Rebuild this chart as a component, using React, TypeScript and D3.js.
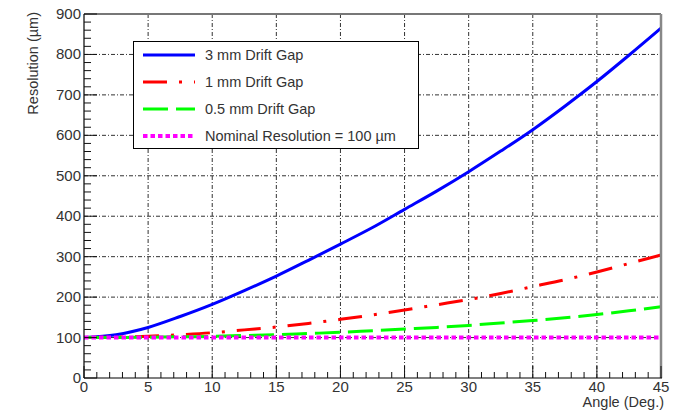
import React from "react";
import * as d3 from "d3";

// angle in degrees, resolution in µm
const angles = [0, 2.5, 5, 7.5, 10, 12.5, 15, 17.5, 20, 22.5, 25, 27.5, 30, 32.5, 35, 37.5, 40, 42.5, 45];
const gap3mm = [100, 107, 125, 152, 182, 216, 252, 291, 331, 372, 417, 462, 510, 561, 614, 672, 733, 798, 865];
const gap1mm = [100, 101, 103, 107, 112, 119, 126, 135, 145, 156, 168, 181, 194, 209, 226, 243, 262, 283, 304];
const gap05mm = [100, 100, 101, 102, 103, 105, 107, 110, 113, 117, 121, 125, 130, 136, 142, 149, 157, 166, 176];
const nominal = [100, 100, 100, 100, 100, 100, 100, 100, 100, 100, 100, 100, 100, 100, 100, 100, 100, 100, 100];

const xTicks = [0, 5, 10, 15, 20, 25, 30, 35, 40, 45];
const yTicks = [0, 100, 200, 300, 400, 500, 600, 700, 800, 900];

const series = [
  { name: "3 mm Drift Gap", values: gap3mm, color: "#0000ff", width: 3, dash: "" },
  { name: "1 mm Drift Gap", values: gap1mm, color: "#ff0000", width: 3, dash: "24,12,3,12" },
  { name: "0.5 mm Drift Gap", values: gap05mm, color: "#00ff00", width: 3, dash: "25,8" },
  { name: "Nominal Resolution = 100 µm", values: nominal, color: "#ff00ff", width: 4, dash: "4.5,3" },
];

const W = 690;
const H = 410;
const margin = { top: 14, right: 29, bottom: 32, left: 84 };
const font = "'Liberation Sans', Arial, sans-serif";

const App = () => {
  const x = d3.scaleLinear().domain([0, 45]).range([margin.left, W - margin.right]);
  const y = d3.scaleLinear().domain([0, 900]).range([H - margin.bottom, margin.top]);
  const x0 = x(0), x1 = x(45), y0 = y(0), y1 = y(900);

  const line = d3
    .line<number>()
    .x((_, i) => x(angles[i]))
    .y((d) => y(d))
    .curve(d3.curveMonotoneX);

  const xMinor = d3.range(0, 46, 1);
  const yMinor = d3.range(0, 901, 20);

  return (
    <div style={{ position: "absolute", left: 0, top: 0 }}>
      <svg width={W} height={H} style={{ display: "block", background: "#fff" }}>
        <g stroke="#333" strokeWidth={1} strokeDasharray="4,2,1,2">
          {xTicks.slice(1).map((t) => (
            <line key={"gx" + t} x1={x(t)} x2={x(t)} y1={y0} y2={y1} />
          ))}
          {yTicks.slice(1).map((t) => (
            <line key={"gy" + t} x1={x0} x2={x1} y1={y(t)} y2={y(t)} />
          ))}
        </g>

        <g fill="none">
          {series.map((s) => (
            <path
              key={s.name}
              d={line(s.values) || ""}
              stroke={s.color}
              strokeWidth={s.width}
              strokeDasharray={s.dash || undefined}
            />
          ))}
        </g>

        {/* frame */}
        <line x1={x0} x2={x1} y1={y1} y2={y1} stroke="#777" strokeWidth={2} />
        <line x1={x1} x2={x1} y1={y1} y2={y0} stroke="#888" strokeWidth={2.5} />
        <line x1={x0} x2={x1 + 1} y1={y0} y2={y0} stroke="#000" strokeWidth={1.2} />
        <line x1={x0} x2={x0} y1={y1} y2={y0} stroke="#000" strokeWidth={1.2} />

        {/* ticks */}
        <g stroke="#111" strokeWidth={1}>
          {xMinor.map((t) => {
            const major = t % 5 === 0;
            return <line key={"tx" + t} x1={x(t)} x2={x(t)} y1={y0} y2={y0 - (major ? 12 : 6)} />;
          })}
          {yMinor.map((t) => {
            const major = t % 100 === 0;
            return <line key={"ty" + t} x1={x0} x2={x0 + (major ? 13 : 7)} y1={y(t)} y2={y(t)} />;
          })}
        </g>

        <g fontFamily={font} fontSize={15} fill="#333">
          {xTicks.map((t) => (
            <text key={"lx" + t} x={x(t)} y={y0 + 14} textAnchor="middle">
              {t}
            </text>
          ))}
          {yTicks.map((t) => (
            <text key={"ly" + t} x={x0 - 3} y={y(t) + 5} textAnchor="end">
              {t}
            </text>
          ))}
          <text x={x1 + 3} y={H - 3} textAnchor="end" fontSize={14.5}>
            Angle (Deg.)
          </text>
          <text transform={`translate(38, ${y1 - 2}) rotate(-90)`} textAnchor="end" fontSize={14.5}>
            Resolution (µm)
          </text>
        </g>

        {/* legend */}
        <g>
          <rect x={133.5} y={41.5} width={285} height={107} fill="#fff" stroke="#000" strokeWidth={1} />
          {series.map((s, i) => {
            const ly = 55 + i * 27;
            return (
              <g key={"lg" + s.name}>
                <line
                  x1={143}
                  x2={195}
                  y1={ly}
                  y2={ly}
                  stroke={s.color}
                  strokeWidth={s.width}
                  strokeDasharray={s.dash || undefined}
                />
                <text x={205} y={ly + 5} fontFamily={font} fontSize={14.5} fill="#333">
                  {s.name}
                </text>
              </g>
            );
          })}
        </g>
      </svg>
    </div>
  );
};

export default App;
